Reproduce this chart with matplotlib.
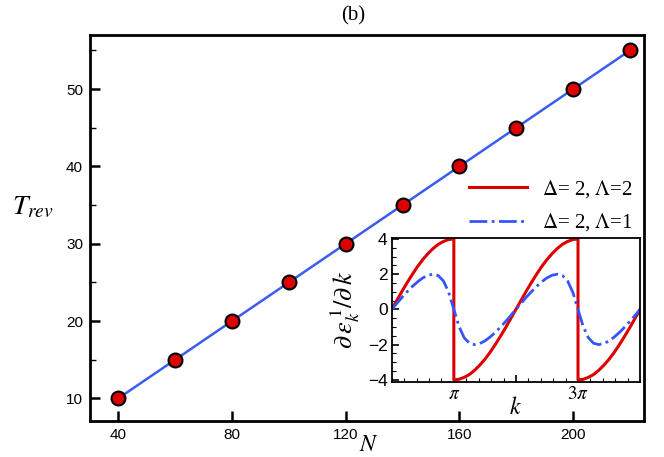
import numpy as np
import matplotlib.pyplot as plt
from matplotlib.ticker import MultipleLocator, FixedLocator

plt.rcParams['mathtext.fontset'] = 'stix'
plt.rcParams['font.family'] = ['Liberation Sans', 'DejaVu Sans']

# main panel: revival time vs N
N = [40, 60, 80, 100, 120, 140, 160, 180, 200, 220]
T_rev = [10, 15, 20, 25, 30, 35, 40, 45, 50, 55]

# inset: group velocity, k in units of pi (sampled every pi/12)
k_seg1 = [i / 12 for i in range(13)]          # 0 .. pi
k_seg2 = [1 + i / 12 for i in range(25)]      # pi .. 3pi
k_seg3 = [3 + i / 12 for i in range(13)]      # 3pi .. 4pi
k_red = k_seg1 + k_seg2 + k_seg3
v_red = [0.00, 0.52, 1.04, 1.53, 2.00, 2.44, 2.83, 3.17, 3.46, 3.70, 3.86, 3.97, 4.00,
         -4.00, -3.97, -3.86, -3.70, -3.46, -3.17, -2.83, -2.44, -2.00, -1.53, -1.04, -0.52, 0.00,
         0.52, 1.04, 1.53, 2.00, 2.44, 2.83, 3.17, 3.46, 3.70, 3.86, 3.97, 4.00,
         -4.00, -3.97, -3.86, -3.70, -3.46, -3.17, -2.83, -2.44, -2.00, -1.53, -1.04, -0.52, 0.00]

k_blue = [i / 12 for i in range(49)]
v_blue = [0.00, 0.35, 0.69, 1.01, 1.31, 1.57, 1.79, 1.94, 2.00, 1.92, 1.61, 0.97,
          0.00, -0.97, -1.61, -1.92, -2.00, -1.94, -1.79, -1.57, -1.31, -1.01, -0.69, -0.35,
          0.00, 0.35, 0.69, 1.01, 1.31, 1.57, 1.79, 1.94, 2.00, 1.92, 1.61, 0.97,
          0.00, -0.97, -1.61, -1.92, -2.00, -1.94, -1.79, -1.57, -1.31, -1.01, -0.69, -0.35, 0.00]

label_red = r'$\Delta$= 2, $\Lambda$=2'
label_blue = r'$\Delta$= 2, $\Lambda$=1'

fig = plt.figure(figsize=(6.64, 4.57), dpi=100)
ax = fig.add_axes([0.1355, 0.0777, 0.8345, 0.8457])

ax.plot(N, T_rev, color='#3a5cf0', lw=1.8, zorder=2)
ax.plot(N, T_rev, 'o', ms=10, mfc='#dd0000', mec='black', mew=1.5, zorder=3)

ax.set_xlim(30, 225)
ax.set_ylim(7, 57)
ax.xaxis.set_major_locator(FixedLocator([40, 80, 120, 160, 200]))
ax.yaxis.set_major_locator(FixedLocator([10, 20, 30, 40, 50]))
ax.yaxis.set_minor_locator(FixedLocator([15, 25, 35, 45, 55]))
ax.tick_params(which='both', direction='in', top=False, right=False, labelsize=11)
ax.tick_params(which='major', length=7, width=1.8, pad=5)
ax.tick_params(which='minor', length=4, width=1.0)
for s in ax.spines.values():
    s.set_linewidth(2.0)

fig.text(369 / 664, 1 - 445 / 457, r'$N$', fontsize=17, ha='center', va='center')
fig.text(33 / 664, 1 - 207 / 457, r'$T_{rev}$', fontsize=20, ha='center', va='center')
fig.text(353 / 664, 1 - 16 / 457, '(b)', fontsize=15, ha='center', va='center',
         family='Liberation Serif')

# legend drawn as proxy lines in the main axes
l1, = ax.plot([], [], color='#dd0000', lw=2.2)
l2, = ax.plot([], [], color='#3355ff', lw=2.0, ls='-.')
leg = ax.legend([l1, l2], [label_red, label_blue], loc='upper left',
                bbox_to_anchor=(0.651, 0.678), frameon=False,
                handlelength=2.75, handletextpad=0.75, labelspacing=0.55,
                prop={'family': 'Liberation Serif', 'size': 15})

# inset
axi = fig.add_axes([0.590, 0.165, 0.374, 0.314])
axi.plot(k_red, v_red, color='#dd0000', lw=2.2)
axi.plot(k_blue, v_blue, color='#3355ff', lw=2.0, ls='-.')
axi.set_xlim(0, 4)
axi.set_ylim(-4.1, 4.05)
axi.xaxis.set_major_locator(FixedLocator([1, 2, 3]))
axi.xaxis.set_minor_locator(MultipleLocator(0.2))
axi.set_xticklabels([r'$\pi$', '', r'$3\pi$'], fontsize=14)
axi.yaxis.set_major_locator(FixedLocator([-4, -2, 0, 2, 4]))
axi.yaxis.set_minor_locator(MultipleLocator(0.5))
axi.tick_params(which='both', direction='in', top=False, right=False)
axi.tick_params(axis='y', labelsize=12.5)
axi.tick_params(which='major', length=5, width=1.2, pad=3)
axi.tick_params(which='minor', length=3, width=0.8)
for s in axi.spines.values():
    s.set_linewidth(1.3)
axi.set_xlabel(r'$k$', fontsize=17, labelpad=-4)
axi.set_ylabel(r'$\partial\,\varepsilon^{\,1}_{k}/\partial\,k$', fontsize=19, labelpad=4)

fig.savefig('out.png', dpi=100)
